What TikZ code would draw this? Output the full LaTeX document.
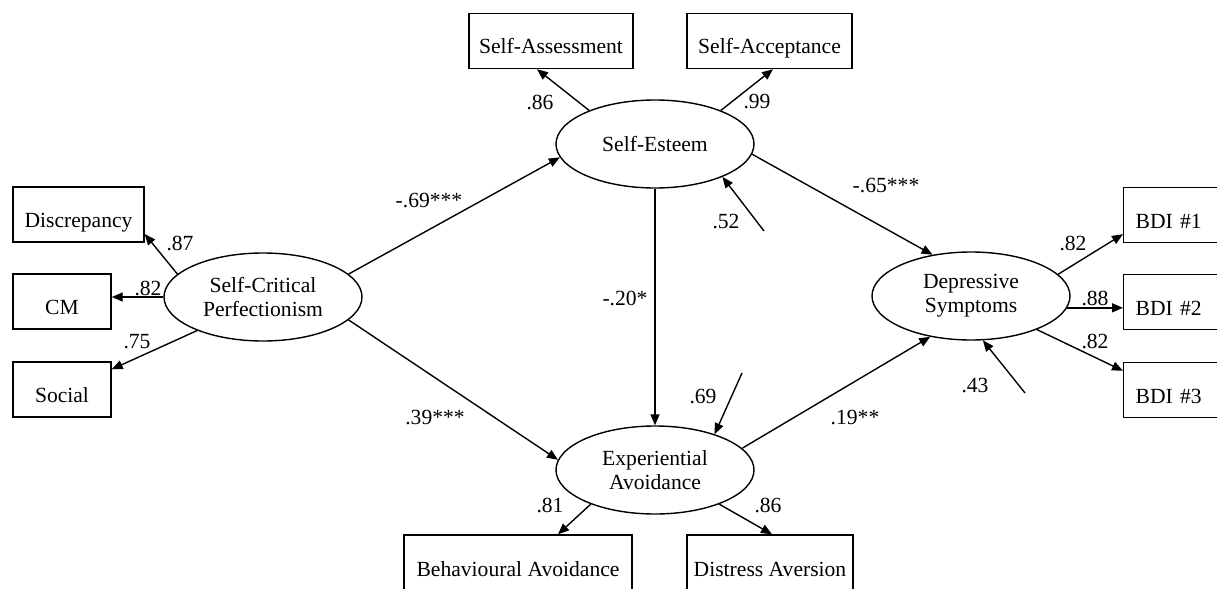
\documentclass[tikz,border=0pt]{standalone}
\usepackage{fontspec}
\setmainfont{Liberation Serif}
\usetikzlibrary{shapes.geometric,arrows.meta,calc}
\begin{document}
\begin{tikzpicture}[x=0.5pt,y=-0.5pt,
  every node/.style={font=\fontsize{10.8}{12}\selectfont},
  obs/.style={draw, line width=0.7pt, rectangle, inner sep=0pt, minimum height=27.5pt, text height=13pt, text depth=0pt},
  lat/.style={draw, line width=0.7pt, ellipse, inner sep=0pt, minimum width=99pt, minimum height=44pt, align=center},
  arr/.style={line width=0.7pt, -{Triangle[length=5.5pt,width=4.5pt]}},
  lab/.style={inner sep=0pt}]
\clip (0,0) rectangle (1217,589);
\fill[white] (0,0) rectangle (1217,589);
% latent variables
\node[lat] (scp) at (263,297) {Self-Critical\\Perfectionism};
\node[lat] (se) at (655,144) {Self-Esteem};
\node[lat] (ea) at (655,470) {Experiential\\Avoidance};
\node[lat] (ds) at (971,296) {Depressive\\Symptoms};
% observed variables
\node[obs, minimum width=65.5pt] (disc) at (78.5,214.5) {Discrepancy};
\node[obs, minimum width=49pt] (cm) at (62,301.5) {CM};
\node[obs, minimum width=49pt] (soc) at (62,389.5) {Social};
\node[obs, minimum width=82pt] (sass) at (551,41) {Self-Assessment};
\node[obs, minimum width=82.5pt] (sacc) at (769.5,41) {Self-Acceptance};
\node[obs, minimum width=114pt, minimum height=28pt] (ba) at (518,563) {Behavioural Avoidance};
\node[obs, minimum width=83pt, minimum height=28pt] (da) at (770,563) {Distress Aversion};
\node[obs, anchor=west, text width=45pt, inner xsep=6pt, align=left] (b1) at (1123,215) {BDI \#1};
\node[obs, anchor=west, text width=45pt, inner xsep=6pt, align=left] (b2) at (1123,302) {BDI \#2};
\node[obs, anchor=west, text width=45pt, inner xsep=6pt, align=left] (b3) at (1123,390) {BDI \#3};
% residual sources
\coordinate (rse) at (764,231);
\coordinate (rea) at (742,373);
\coordinate (rds) at (1025,393);
% loadings
\draw[arr] (scp.165) -- ($(disc.east)+(0,19.5)$);
\draw[arr] (scp.west) -- (scp.west -| cm.east);
\draw[arr] (scp.207) -- ($(soc.north east)+(0,8)$);
\draw[arr] (se.153) -- ($(sass.south)+(-14,0)$);
\draw[arr] (se.27) -- ($(sacc.south)+(3.5,0)$);
\draw[arr] (ea.208) -- ($(ba.north)+(40,0)$);
\draw[arr] (ea.332) -- ($(da.north)+(2,0)$);
\draw[arr] (ds.14) -- ($(b1.south west)+(0,-9)$);
\draw[arr] (ds.353) -- (ds.353 -| b2.west);
\draw[arr] (ds.333) -- ($(b3.north west)+(0,9)$);
% structural paths
\draw[arr] (scp.15) -- (se.188);
\draw[arr] (scp.345) -- (ea.174);
\draw[arr] (se.south) -- (ea.north);
\draw[arr] (se.354) -- (ds.133);
\draw[arr] (ea.14) -- (ds.225);
% residuals
\draw[arr] (rse) -- (se.334);
\draw[arr] (rea) -- (ea.31);
\draw[arr] (rds) -- (ds.285);
% labels
\node[lab] (l87) at (180,243) {.87};
\node[lab] (l82a) at (148,288) {.82};
\node[lab] (l75) at (137,342) {.75};
\node[lab] (l69) at (429,201) {-.69***};
\node[lab] (l39) at (435,417) {.39***};
\node[lab] (l86a) at (540,102) {.86};
\node[lab] (l99) at (757,102) {.99};
\node[lab] (l52) at (726,221) {.52};
\node[lab] (l20) at (625,298) {-.20*};
\node[lab] (l69b) at (703,396) {.69};
\node[lab] (l65) at (886,186) {-.65***};
\node[lab] (l19) at (855,417) {.19**};
\node[lab] (l43) at (975,385) {.43};
\node[lab] (l82b) at (1073,243) {.82};
\node[lab] (l88) at (1095,298) {.88};
\node[lab] (l82c) at (1095,341) {.82};
\node[lab] (l81) at (550,505) {.81};
\node[lab] (l86b) at (768,505) {.86};
\end{tikzpicture}
\end{document}
